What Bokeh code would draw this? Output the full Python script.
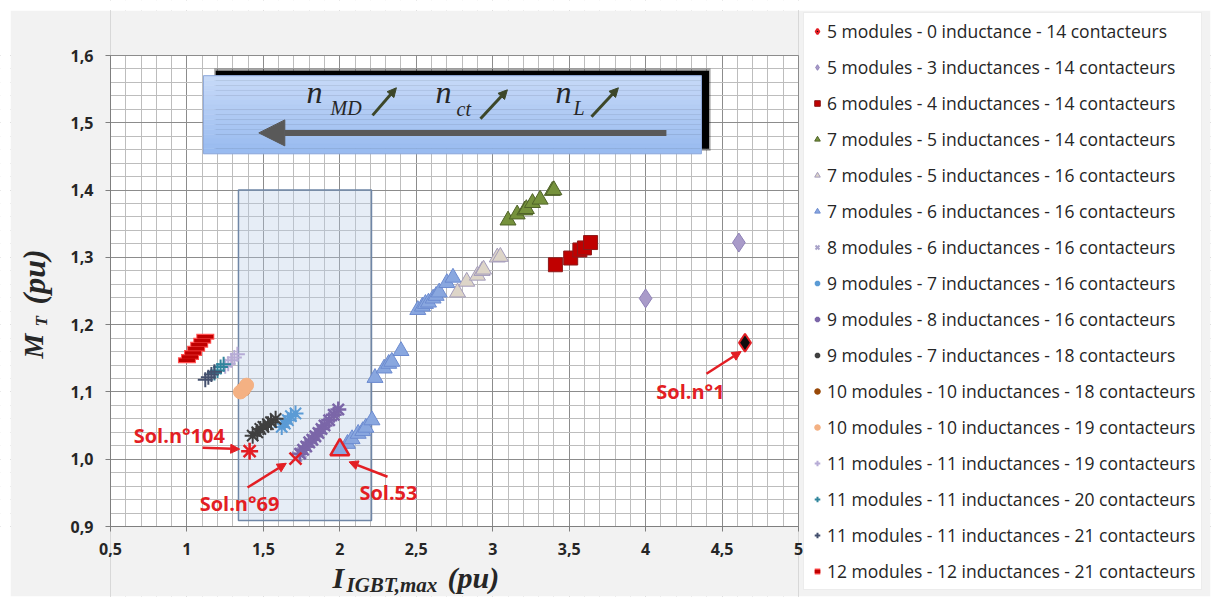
import numpy as np
from bokeh.plotting import figure
from bokeh.models import (Legend, LegendItem, Label, Arrow, NormalHead, Range1d,
                          SingleIntervalTicker, CustomJSTickFormatter)
from bokeh.embed import file_html
from bokeh.resources import INLINE

# ---------------- data ----------------
labels = [
    "5 modules - 0 inductance - 14 contacteurs",
    "5 modules - 3 inductances - 14 contacteurs",
    "6 modules - 4 inductances - 14 contacteurs",
    "7 modules - 5 inductances - 14 contacteurs",
    "7 modules - 5 inductances - 16 contacteurs",
    "7 modules - 6 inductances - 16 contacteurs",
    "8 modules - 6 inductances - 16 contacteurs",
    "9 modules - 7 inductances - 16 contacteurs",
    "9 modules - 8 inductances - 16 contacteurs",
    "9 modules - 7 inductances - 18 contacteurs",
    "10 modules - 10 inductances - 18 contacteurs",
    "10 modules - 10 inductances - 19 contacteurs",
    "11 modules - 11 inductances - 19 contacteurs",
    "11 modules - 11 inductances - 20 contacteurs",
    "11 modules - 11 inductances - 21 contacteurs",
    "12 modules - 12 inductances - 21 contacteurs",
]

x_5_0_14 = [4.65]
y_5_0_14 = [1.173]
x_5_3_14 = [4.00, 4.61]
y_5_3_14 = [1.239, 1.322]
x_6_4_14 = [3.41, 3.51, 3.57, 3.60, 3.64]
y_6_4_14 = [1.289, 1.299, 1.311, 1.314, 1.322]
x_7_5_14 = [3.10, 3.16, 3.21, 3.22, 3.26, 3.31, 3.39, 3.40]
y_7_5_14 = [1.355, 1.364, 1.370, 1.372, 1.381, 1.386, 1.399, 1.400]
x_7_5_16 = [2.77, 2.83, 2.90, 2.93, 2.94, 3.03, 3.05]
y_7_5_16 = [1.248, 1.264, 1.273, 1.280, 1.282, 1.300, 1.301]
x_7_6_16 = [2.05, 2.08, 2.12, 2.15, 2.17, 2.21,
            2.23, 2.29, 2.32, 2.34, 2.40,
            2.51, 2.54, 2.56, 2.58, 2.61, 2.63, 2.65, 2.70, 2.74]
y_7_6_16 = [1.023, 1.030, 1.038, 1.042, 1.047, 1.058,
            1.121, 1.135, 1.142, 1.145, 1.161,
            1.222, 1.227, 1.231, 1.233, 1.239, 1.243, 1.248, 1.262, 1.270]
x_8_6_16 = [1.72, 1.75]
y_8_6_16 = [1.004, 1.010]
x_9_7_16 = [1.62, 1.64, 1.66, 1.68, 1.71]
y_9_7_16 = [1.048, 1.053, 1.058, 1.064, 1.068]
x_9_8_16 = [1.74, 1.76, 1.78, 1.80, 1.82, 1.84, 1.86, 1.88, 1.90, 1.93, 1.96, 1.99]
y_9_8_16 = [1.008, 1.014, 1.019, 1.025, 1.029, 1.034, 1.039, 1.045, 1.050, 1.058, 1.066, 1.074]
x_9_7_18 = [1.43, 1.46, 1.48, 1.50, 1.53, 1.55, 1.58]
y_9_7_18 = [1.035, 1.040, 1.045, 1.048, 1.052, 1.055, 1.060]
x_10_10_18 = [1.37]
y_10_10_18 = [1.104]
x_10_10_19 = [1.35, 1.37, 1.39]
y_10_10_19 = [1.100, 1.104, 1.110]
x_11_11_19 = [1.25, 1.27, 1.29, 1.31, 1.33]
y_11_11_19 = [1.138, 1.142, 1.147, 1.151, 1.156]
x_11_11_20 = [1.18, 1.20, 1.22, 1.24]
y_11_11_20 = [1.128, 1.132, 1.137, 1.141]
x_11_11_21 = [1.12, 1.14, 1.16, 1.18]
y_11_11_21 = [1.118, 1.122, 1.126, 1.130]
x_12_12_21 = [1.00, 1.02, 1.04, 1.06, 1.08, 1.10, 1.12]
y_12_12_21 = [1.147, 1.152, 1.158, 1.164, 1.170, 1.176, 1.182]

# highlighted solutions
sol_names = ["Sol.n°1", "Sol.n°104", "Sol.n°69", "Sol.53"]
sol_x = [4.65, 1.41, 1.71, 2.00]
sol_y = [1.173, 1.012, 1.001, 1.014]

# selected zone
zone_x = [1.337, 2.207]
zone_y = [0.909, 1.400]

x_lim = (0.5, 5.0)
y_lim = (0.9, 1.6)
x_ticks_interval = 0.5
y_ticks_interval = 0.1

# ---------------- geometry (canvas pixels) ----------------
W, H = 1212, 600
PL, PR, PT, PB = 110, 798, 55, 526          # plotting area
GL, GR, GT, GB = 10, 1210, 10, 596          # grey chart area
sx = (x_lim[1] - x_lim[0]) / (PR - PL)
sy = (y_lim[1] - y_lim[0]) / (PB - PT)
def X(px):
    return x_lim[0] + (px - PL) * sx
def Y(py):
    return y_lim[0] + (PB - py) * sy
xr = Range1d(X(0), X(W))
yr = Range1d(Y(H), Y(0))

p = figure(width=W, height=H, x_range=xr, y_range=yr,
           x_axis_location="above", y_axis_location="right",
           output_backend="svg", toolbar_location=None,
           min_border_left=0, min_border_right=0,
           min_border_top=0, min_border_bottom=0,
           background_fill_color="white", border_fill_color="white")
p.outline_line_color = None

xt = SingleIntervalTicker(interval=x_ticks_interval, num_minor_ticks=5)
yt = SingleIntervalTicker(interval=y_ticks_interval, num_minor_ticks=5)
p.xaxis.ticker = xt
p.yaxis.ticker = yt
p.xgrid.ticker = xt
p.ygrid.ticker = yt
p.xgrid.bounds = x_lim
p.ygrid.bounds = y_lim
for g in (p.xgrid, p.ygrid):
    g.grid_line_color = "#8c8c8c"
    g.minor_grid_line_color = "#bdbdbd"
    g.grid_line_width = 1
    g.minor_grid_line_width = 1

p.xaxis.formatter = CustomJSTickFormatter(
    code="const v = Math.round(tick*10)/10; return v.toString().replace('.', ',');")
p.yaxis.formatter = CustomJSTickFormatter(
    code="return (Math.round(tick*10)/10).toFixed(1).replace('.', ',');")
p.xaxis.fixed_location = y_lim[0]
p.yaxis.fixed_location = x_lim[0]
p.xaxis.bounds = x_lim
p.yaxis.bounds = y_lim
for ax in (p.xaxis[0], p.yaxis[0]):
    ax.axis_line_color = "#7f7f7f"
    ax.major_tick_line_color = "#7f7f7f"
    ax.major_tick_out = 0
    ax.major_tick_in = 5
    ax.minor_tick_out = 0
    ax.minor_tick_in = 0
    ax.minor_tick_line_color = None
    ax.major_label_text_font = "Open Sans"
    ax.major_label_text_font_style = "bold"
    ax.major_label_text_font_size = "16px"
    ax.major_label_text_color = "#262626"
p.xaxis.major_label_standoff = -28
p.yaxis.major_label_standoff = -40

# ---------------- masks outside the plotting area (hide grid) ----------------
bg = "#f2f2f2"
p.quad(left=X(GL), right=x_lim[0], bottom=Y(GB), top=Y(GT), fill_color=bg, line_color=None)
p.quad(left=x_lim[1], right=X(GR), bottom=Y(GB), top=Y(GT), fill_color=bg, line_color=None)
p.quad(left=x_lim[0], right=x_lim[1], bottom=Y(GB), top=y_lim[0], fill_color=bg, line_color=None)
p.quad(left=x_lim[0], right=x_lim[1], bottom=y_lim[1], top=Y(GT), fill_color=bg, line_color=None)
wt = "white"
p.quad(left=X(-20), right=X(GL), bottom=Y(H + 20), top=Y(-20), fill_color=wt, line_color=None)
p.quad(left=X(GR), right=X(W + 20), bottom=Y(H + 20), top=Y(-20), fill_color=wt, line_color=None)
p.quad(left=X(GL), right=X(GR), bottom=Y(GT), top=Y(-20), fill_color=wt, line_color=None)
p.quad(left=X(GL), right=X(GR), bottom=Y(H + 20), top=Y(GB), fill_color=wt, line_color=None)
p.quad(left=x_lim[0], right=x_lim[1], bottom=y_lim[0], top=y_lim[1],
       fill_color=None, line_color="#8c8c8c", line_width=1)

# ---------------- decorations: gradient box ----------------
box_l, box_r, box_b, box_t = 1.108, 4.365, 1.454, 1.570
dxs, dys = 0.05, 0.0075
p.quad(left=box_l + dxs + 0.02, right=box_r + dxs + 0.01, top=box_t + dys + 0.003,
       bottom=box_b + dys - 0.003, fill_color="#000000", fill_alpha=0.35, line_color=None)
p.quad(left=box_l + dxs + 0.03, right=box_r + dxs, top=box_t + dys,
       bottom=box_b + dys, fill_color="#000000", line_color=None)
n_strip = 16
edges = np.linspace(box_t, box_b, n_strip + 1)
c0 = np.array([200, 218, 248])
c1 = np.array([152, 186, 240])
cols = []
for i in range(n_strip):
    c = (c0 + (c1 - c0) * (i + 0.5) / n_strip).astype(int)
    cols.append("#%02x%02x%02x" % tuple(c))
p.quad(left=box_l, right=box_r, top=edges[:-1], bottom=edges[1:],
       fill_color=cols, line_color=cols, line_width=0.5)
p.quad(left=box_l, right=box_r, top=box_t, bottom=box_b,
       fill_color=None, line_color="#8faadc", line_width=1)

p.add_layout(Arrow(end=NormalHead(size=26, fill_color="#595959", line_color="#595959"),
                   x_start=4.136, y_start=1.485, x_end=1.47, y_end=1.485,
                   line_width=6, line_color="#595959"))

olive = "#3d4729"
for (xs, ys, xe, ye) in [(2.214, 1.511, 2.370, 1.552),
                         (2.920, 1.506, 3.096, 1.549),
                         (3.646, 1.509, 3.822, 1.552)]:
    p.add_layout(Arrow(end=NormalHead(size=9, fill_color=olive, line_color=olive),
                       x_start=xs, y_start=ys, x_end=xe, y_end=ye,
                       line_width=3, line_color=olive))

def lab(x, y, text, size, style="italic", font="Liberation Serif", color="#262626",
        align="left", baseline="middle", angle=0):
    p.add_layout(Label(x=x, y=y, text=text, text_font=font, text_font_size=size,
                       text_font_style=style, text_color=color, text_align=align,
                       text_baseline=baseline, angle=angle))

lab(X(306), Y(91), "n", "32px")
lab(X(330), Y(107), "MD", "20px")
lab(X(435), Y(91), "n", "32px")
lab(X(456), Y(108), "ct", "20px")
lab(X(555), Y(91), "n", "32px")
lab(X(573), Y(107), "L", "20px")

# ---------------- selected zone ----------------
p.quad(left=zone_x[0], right=zone_x[1], bottom=zone_y[0], top=zone_y[1],
       fill_color="#b8cce4", fill_alpha=0.35, line_color="#6f86a6", line_width=1.5)

# ---------------- series ----------------
renderers = []
r = p.scatter(x_5_0_14, y_5_0_14, marker="diamond", size=18,
              fill_color="#0d0d0d", line_color="#e31e24", line_width=2)
renderers.append([r])
r = p.scatter(x_5_3_14, y_5_3_14, marker="diamond", size=19,
              fill_color="#a99bc9", line_color="#8f82b8", line_width=1)
renderers.append([r])
r = p.scatter(x_6_4_14, y_6_4_14, marker="square", size=14,
              fill_color="#c00000", line_color="#8b1a1a", line_width=1)
renderers.append([r])
r = p.scatter(x_7_5_14, y_7_5_14, marker="triangle", size=16,
              fill_color="#76923c", line_color="#4f6228", line_width=1)
renderers.append([r])
r7616 = p.scatter(x_7_6_16, y_7_6_16, marker="triangle", size=16,
                  fill_color="#89a7df", line_color="#6c8bd0", line_width=1)
r7516 = p.scatter(x_7_5_16, y_7_5_16, marker="triangle", size=16,
                  fill_color="#ddd5c8", line_color="#a49cbc", line_width=1)
renderers.append([r7516])
renderers.append([r7616])
r = p.scatter(x_8_6_16, y_8_6_16, marker="x", size=14,
              line_color="#a9a3c9", line_width=2)
renderers.append([r])
r = p.scatter(x_9_7_16, y_9_7_16, marker="asterisk", size=16,
              line_color="#5b9bd5", line_width=2)
renderers.append([r])
r = p.scatter(x_9_8_16, y_9_8_16, marker="asterisk", size=16,
              line_color="#7b66a8", line_width=2.5)
renderers.append([r])
r = p.scatter(x_9_7_18, y_9_7_18, marker="asterisk", size=16,
              line_color="#3f3f3f", line_width=2)
renderers.append([r])
r = p.scatter(x_10_10_18, y_10_10_18, marker="circle", size=14,
              fill_color="#984807", line_color="#984807")
renderers.append([r])
r = p.scatter(x_10_10_19, y_10_10_19, marker="circle", size=14,
              fill_color="#f4b183", line_color="#f4b183")
renderers.append([r])
r = p.scatter(x_11_11_19, y_11_11_19, marker="cross", size=15,
              line_color="#b7acd6", line_width=2)
renderers.append([r])
r = p.scatter(x_11_11_20, y_11_11_20, marker="cross", size=15,
              line_color="#31859c", line_width=2)
renderers.append([r])
r = p.scatter(x_11_11_21, y_11_11_21, marker="cross", size=15,
              line_color="#44506e", line_width=2)
renderers.append([r])
ra = p.scatter(x_12_12_21, y_12_12_21, marker="dash", size=18,
               line_color="#ff5050", line_width=6)
rb = p.scatter(x_12_12_21, y_12_12_21, marker="dash", size=16,
               line_color="#c00000", line_width=3.5)
renderers.append([ra, rb])

# highlighted solutions (red)
red = "#e31e24"
p.scatter(sol_x[1:2], sol_y[1:2], marker="asterisk", size=17, line_color=red, line_width=2.5)
p.scatter(sol_x[2:3], sol_y[2:3], marker="x", size=17, line_color=red, line_width=2.5)
p.scatter(sol_x[3:4], sol_y[3:4], marker="triangle", size=19,
          fill_color="#89a7df", line_color=red, line_width=2.5)

def red_arrow(xs, ys, xe, ye):
    p.add_layout(Arrow(end=NormalHead(size=9, fill_color=red, line_color=red),
                       x_start=xs, y_start=ys, x_end=xe, y_end=ye,
                       line_width=2.5, line_color=red))

red_arrow(4.398, 1.127, 4.625, 1.160)
red_arrow(1.102, 1.017, 1.345, 1.015)
red_arrow(1.396, 0.958, 1.650, 0.994)
red_arrow(2.312, 0.974, 2.060, 0.996)
for name, (tx, ty) in zip(sol_names, [(4.293, 1.101), (0.950, 1.035),
                                      (1.344, 0.934), (2.318, 0.951)]):
    lab(tx, ty, name, "20px", style="bold", font="Open Sans", color=red, align="center")

# ---------------- axis titles ----------------
lab(X(332), Y(577), "I", "30px", style="bold italic")
lab(X(346), Y(584), "IGBT,max", "21px", style="bold italic")
lab(X(447), Y(577), "(pu)", "30px", style="bold italic")
ang = np.pi / 2
lab(X(33), Y(358), "M", "28px", style="bold italic", angle=ang)
lab(X(41), Y(326), "T", "17px", style="bold italic", angle=ang)
lab(X(33), Y(304), "(pu)", "32px", style="bold italic", angle=ang)

# ---------------- legend ----------------
items = [LegendItem(label=l, renderers=rs) for l, rs in zip(labels, renderers)]
legend = Legend(items=items, location=(803, H - 590))
legend.background_fill_color = "white"
legend.background_fill_alpha = 1
legend.border_line_color = "#d9d9d9"
legend.label_text_font = "Open Sans"
legend.label_text_font_size = "17.5px"
legend.label_text_color = "#262626"
legend.glyph_width = 14
legend.glyph_height = 20
legend.label_height = 20
legend.spacing = 12
legend.padding = 6
legend.margin = 0
legend.label_standoff = 3
p.add_layout(legend)

open("out.html", "w").write(file_html(p, INLINE))
